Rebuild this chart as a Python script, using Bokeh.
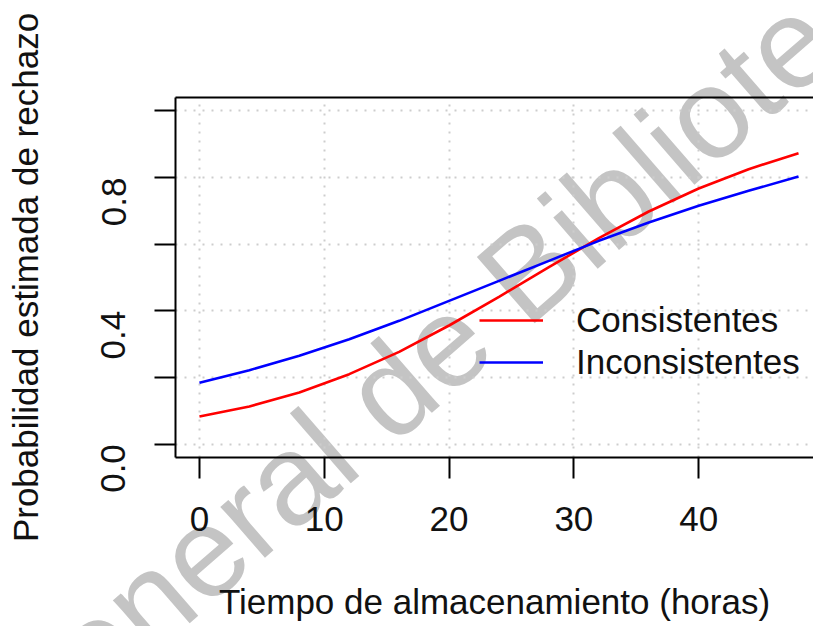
import math

from bokeh.plotting import figure
from bokeh.layouts import column
from bokeh.models import Range1d, LinearAxis, FixedTicker, Legend, LegendItem, Div
from bokeh.embed import file_html
from bokeh.resources import INLINE

# Estimated rejection probability over storage time
hours = [0, 4, 8, 12, 16, 20, 24, 28, 32, 36, 40, 44, 48]
consistentes = [0.083, 0.113, 0.155, 0.210, 0.277, 0.356, 0.442, 0.531,
                0.618, 0.698, 0.767, 0.825, 0.873]
inconsistentes = [0.184, 0.222, 0.265, 0.315, 0.370, 0.430, 0.490, 0.550,
                  0.610, 0.665, 0.715, 0.760, 0.803]

series_names = ["Consistentes", "Inconsistentes"]

x_ticks = [0, 10, 20, 30, 40]
y_ticks = [0.0, 0.2, 0.4, 0.6, 0.8, 1.0]
y_tick_labels = ["0.0", "", "0.4", "", "0.8", ""]

x_title = "Tiempo de almacenamiento (horas)"
y_title = "Probabilidad estimada de rechazo"
watermark = "General de Bibliotecas"

FONT = "Liberation Sans"
W, H = 813, 626

# --- background sheet with the diagonal stamp, spanning the whole page ---
sx, sy, tilt = 22, 769, 41
stamp = Div(width=W, height=H, margin=(0, 0, 0, 0), text=(
    f'<svg xmlns="http://www.w3.org/2000/svg" width="{W}" height="{H}" '
    f'style="display:block;overflow:hidden">'
    f'<text x="{sx}" y="{sy}" transform="rotate({-tilt} {sx} {sy})" '
    f'font-family="{FONT}" font-size="128" fill="#C4C4C4">{watermark}</text>'
    f'</svg>'))

# --- the chart itself, transparent so the stamp shows underneath ---
fig = figure(width=W, height=H, output_backend="svg", toolbar_location=None,
             x_range=Range1d(-1.92, 49.2), y_range=Range1d(-0.04, 1.04),
             x_axis_location=None, y_axis_location=None,
             min_border_left=175, min_border_right=0,
             min_border_top=97, min_border_bottom=169,
             margin=(-H, 0, 0, 0))
fig.outline_line_color = None
fig.background_fill_alpha = 0
fig.border_fill_alpha = 0

# dotted reference grid
fig.xgrid.ticker = FixedTicker(ticks=x_ticks)
fig.ygrid.ticker = FixedTicker(ticks=y_ticks)
fig.grid.grid_line_color = "#CDCDCD"
fig.grid.grid_line_width = 2
fig.grid.grid_line_dash = "2 7"

red = fig.line(hours, consistentes, line_color="red", line_width=2.6)
blue = fig.line(hours, inconsistentes, line_color="blue", line_width=2.6)

axis_style = dict(axis_line_width=2, axis_line_color="black",
                  major_tick_line_width=2, major_tick_line_color="black",
                  major_tick_in=0, major_tick_out=21,
                  minor_tick_in=0, minor_tick_out=0,
                  major_label_text_font=FONT, major_label_text_font_size="35px",
                  major_label_text_color="#111111",
                  axis_label_text_font=FONT, axis_label_text_font_size="35px",
                  axis_label_text_font_style="normal",
                  axis_label_text_color="#111111")

xaxis = LinearAxis(ticker=FixedTicker(ticks=x_ticks), axis_label=x_title,
                   major_label_standoff=28, axis_label_standoff=48, **axis_style)
fig.add_layout(xaxis, "below")

yaxis = LinearAxis(ticker=FixedTicker(ticks=y_ticks), axis_label=y_title,
                   major_label_overrides={t: s for t, s in zip(y_ticks, y_tick_labels)},
                   major_label_orientation=math.pi / 2,
                   major_label_standoff=41, axis_label_standoff=42, **axis_style)
fig.add_layout(yaxis, "left")

# top edge of the plotting box
top = LinearAxis(ticker=FixedTicker(ticks=[]), axis_line_width=2,
                 axis_line_color="black", major_tick_out=0, major_tick_in=0,
                 minor_tick_out=0, minor_tick_in=0,
                 major_label_text_font_size="0px")
fig.add_layout(top, "above")

legend = Legend(items=[LegendItem(label=series_names[0], renderers=[red]),
                       LegendItem(label=series_names[1], renderers=[blue])],
                location=(304, 75), glyph_width=64, glyph_height=20,
                label_standoff=33, label_height=20, spacing=2,
                padding=0, margin=0,
                label_text_font=FONT, label_text_font_size="35px",
                label_text_color="#111111",
                border_line_color=None, background_fill_alpha=0)
fig.add_layout(legend)

p = column(stamp, fig, spacing=0)

open("out.html", "w").write(file_html(p, INLINE))
